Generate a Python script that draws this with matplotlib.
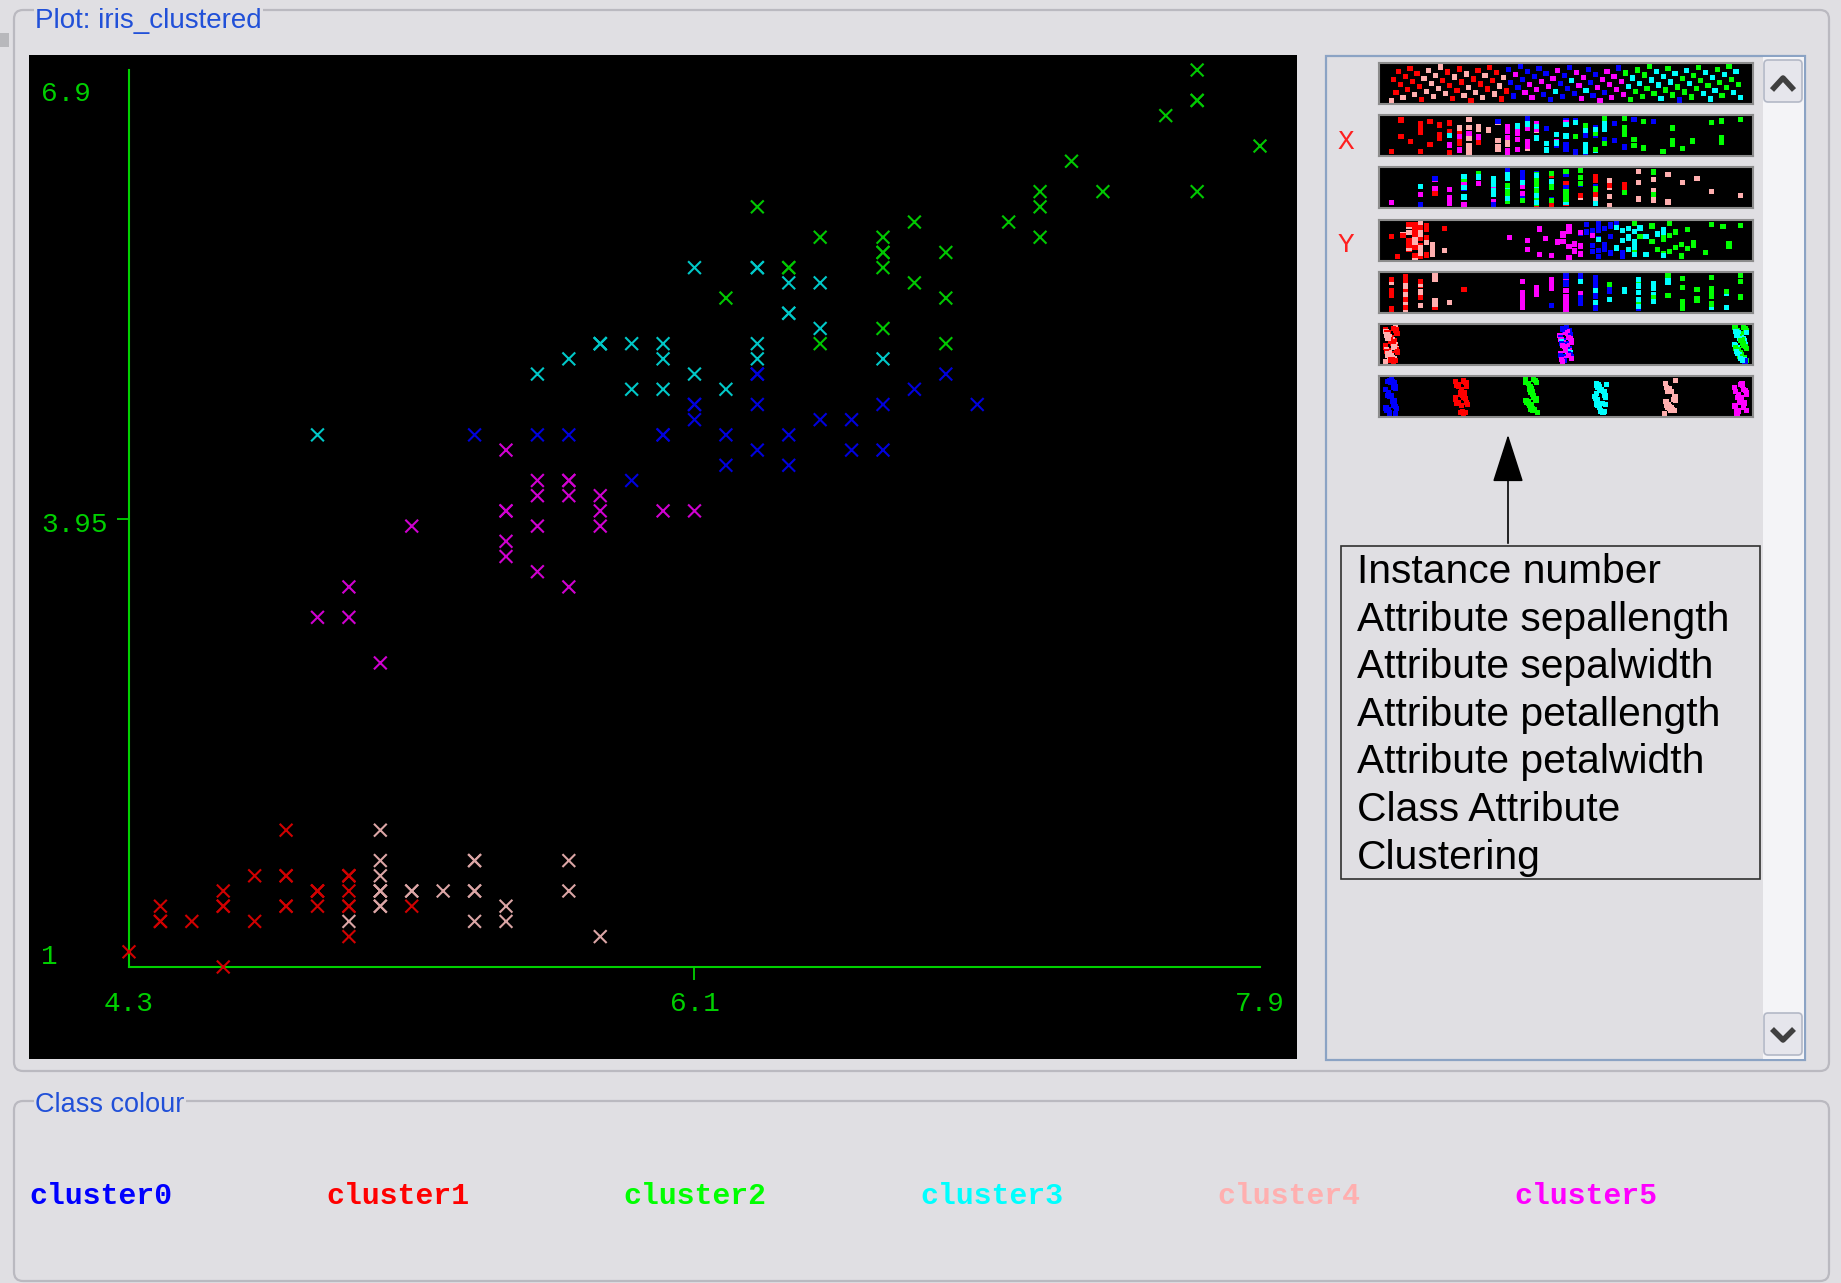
import numpy as np
import matplotlib.pyplot as plt
from matplotlib.patches import FancyBboxPatch, Rectangle

# iris instances (as plotted), one entry per row
sepal_length = [5.1, 4.9, 4.7, 4.6, 5.0, 5.4, 4.6, 5.0, 4.4, 4.9, 5.4, 4.8, 4.8, 4.3, 5.8, 5.7, 5.4, 5.1, 5.7, 5.1,
                5.4, 5.1, 4.6, 5.1, 4.8, 5.0, 5.0, 5.2, 5.2, 4.7, 4.8, 5.4, 5.2, 5.5, 4.9, 5.0, 5.5, 4.9, 4.4, 5.1,
                5.0, 4.5, 4.4, 5.0, 5.1, 4.8, 5.1, 4.6, 5.3, 5.0,
                7.0, 6.4, 6.9, 5.5, 6.5, 5.7, 6.3, 4.9, 6.6, 5.2, 5.0, 5.9, 6.0, 6.1, 5.6, 6.7, 5.6, 5.8, 6.2, 5.6,
                5.9, 6.1, 6.3, 6.1, 6.4, 6.6, 6.8, 6.7, 6.0, 5.7, 5.5, 5.5, 5.8, 6.0, 5.4, 6.0, 6.7, 6.3, 5.6, 5.5,
                5.5, 6.1, 5.8, 5.0, 5.6, 5.7, 5.7, 6.2, 5.1, 5.7,
                6.3, 5.8, 7.1, 6.3, 6.5, 7.6, 4.9, 7.3, 6.7, 7.2, 6.5, 6.4, 6.8, 5.7, 5.8, 6.4, 6.5, 7.7, 7.7, 6.0,
                6.9, 5.6, 7.7, 6.3, 6.7, 7.2, 6.2, 6.1, 6.4, 7.2, 7.4, 7.9, 6.4, 6.3, 6.1, 7.7, 6.3, 6.4, 6.0, 6.9,
                6.7, 6.9, 5.8, 6.8, 6.7, 6.7, 6.3, 6.5, 6.2, 5.9]
sepal_width = [3.5, 3.0, 3.2, 3.1, 3.6, 3.9, 3.4, 3.4, 2.9, 3.1, 3.7, 3.4, 3.0, 3.0, 4.0, 4.4, 3.9, 3.5, 3.8, 3.8,
               3.4, 3.7, 3.6, 3.3, 3.4, 3.0, 3.4, 3.5, 3.4, 3.2, 3.1, 3.4, 4.1, 4.2, 3.1, 3.2, 3.5, 3.1, 3.0, 3.4,
               3.5, 2.3, 3.2, 3.5, 3.8, 3.0, 3.8, 3.2, 3.7, 3.3,
               3.2, 3.2, 3.1, 2.3, 2.8, 2.8, 3.3, 2.4, 2.9, 2.7, 2.0, 3.0, 2.2, 2.9, 2.9, 3.1, 3.0, 2.7, 2.2, 2.5,
               3.2, 2.8, 2.5, 2.8, 2.9, 3.0, 2.8, 3.0, 2.9, 2.6, 2.4, 2.4, 2.7, 2.7, 3.0, 3.4, 3.1, 2.3, 3.0, 2.5,
               2.6, 3.0, 2.6, 2.3, 2.7, 3.0, 2.9, 2.9, 2.5, 2.8,
               3.3, 2.7, 3.0, 2.9, 3.0, 3.0, 2.5, 2.9, 2.5, 3.6, 3.2, 2.7, 3.0, 2.5, 2.8, 3.2, 3.0, 3.8, 2.6, 2.2,
               3.2, 2.8, 2.8, 2.7, 3.3, 3.2, 2.8, 3.0, 2.8, 3.0, 2.8, 3.8, 2.8, 2.8, 2.6, 3.0, 3.4, 3.1, 3.0, 3.1,
               3.1, 3.1, 2.7, 3.2, 3.3, 3.0, 2.5, 3.0, 3.4, 3.0]
petal_length = [1.4, 1.4, 1.3, 1.5, 1.4, 1.7, 1.4, 1.5, 1.4, 1.5, 1.5, 1.6, 1.4, 1.1, 1.2, 1.5, 1.3, 1.4, 1.7, 1.5,
                1.7, 1.5, 1.0, 1.7, 1.9, 1.6, 1.6, 1.5, 1.4, 1.6, 1.6, 1.5, 1.5, 1.4, 1.5, 1.2, 1.3, 1.5, 1.3, 1.5,
                1.3, 1.3, 1.3, 1.6, 1.9, 1.4, 1.6, 1.4, 1.5, 1.4,
                4.7, 4.5, 4.9, 4.0, 4.6, 4.5, 4.7, 3.3, 4.6, 3.9, 3.5, 4.2, 4.0, 4.7, 3.6, 4.4, 4.5, 4.1, 4.5, 3.9,
                4.8, 4.0, 4.9, 4.7, 4.3, 4.4, 4.8, 5.0, 4.5, 3.5, 3.8, 3.7, 3.9, 5.1, 4.5, 4.5, 4.7, 4.4, 4.1, 4.0,
                4.4, 4.6, 4.0, 3.3, 4.2, 4.2, 4.2, 4.3, 3.0, 4.1,
                6.0, 5.1, 5.9, 5.6, 5.8, 6.6, 4.5, 6.3, 5.8, 6.1, 5.1, 5.3, 5.5, 5.0, 5.1, 5.3, 5.5, 6.7, 6.9, 5.0,
                5.7, 4.9, 6.7, 4.9, 5.7, 6.0, 4.8, 4.9, 5.6, 5.8, 6.1, 6.4, 5.6, 5.1, 5.6, 6.1, 5.6, 5.5, 4.8, 5.4,
                5.6, 5.1, 5.1, 5.9, 5.7, 5.2, 5.0, 5.2, 5.4, 5.1]
petal_width = [0.2, 0.2, 0.2, 0.2, 0.2, 0.4, 0.3, 0.2, 0.2, 0.1, 0.2, 0.2, 0.1, 0.1, 0.2, 0.4, 0.4, 0.3, 0.3, 0.3,
               0.2, 0.4, 0.2, 0.5, 0.2, 0.2, 0.4, 0.2, 0.2, 0.2, 0.2, 0.4, 0.1, 0.2, 0.1, 0.2, 0.2, 0.1, 0.2, 0.2,
               0.3, 0.3, 0.2, 0.6, 0.4, 0.3, 0.2, 0.2, 0.2, 0.2,
               1.4, 1.5, 1.5, 1.3, 1.5, 1.3, 1.6, 1.0, 1.3, 1.4, 1.0, 1.5, 1.0, 1.4, 1.3, 1.4, 1.5, 1.0, 1.5, 1.1,
               1.8, 1.3, 1.5, 1.2, 1.3, 1.4, 1.4, 1.7, 1.5, 1.0, 1.1, 1.0, 1.2, 1.6, 1.5, 1.6, 1.5, 1.3, 1.3, 1.3,
               1.2, 1.4, 1.2, 1.0, 1.3, 1.2, 1.3, 1.3, 1.1, 1.3,
               2.5, 1.9, 2.1, 1.8, 2.2, 2.1, 1.7, 1.8, 1.8, 2.5, 2.0, 1.9, 2.1, 2.0, 2.4, 2.3, 1.8, 2.2, 2.3, 1.5,
               2.3, 2.0, 2.0, 1.8, 2.1, 1.8, 1.8, 1.8, 2.1, 1.6, 1.9, 2.0, 2.2, 1.5, 1.4, 2.3, 2.4, 1.8, 1.8, 2.1,
               2.4, 2.3, 1.9, 2.3, 2.5, 2.3, 1.9, 2.0, 2.3, 1.8]
iris_class = [0] * 50 + [1] * 50 + [2] * 50
cluster = [4, 1, 1, 1, 1, 4, 1, 1, 1, 1, 4, 1, 1, 1, 4, 4, 4, 4, 4, 4,
           4, 4, 1, 4, 1, 1, 1, 4, 1, 1, 1, 4, 4, 4, 1, 1, 4, 1, 1, 4,
           4, 1, 1, 1, 4, 1, 4, 1, 4, 1,
           0, 0, 0, 5, 0, 0, 0, 5, 0, 5, 5, 0, 5, 0, 5, 0, 0, 5, 0, 5,
           3, 5, 0, 0, 0, 0, 0, 3, 0, 5, 5, 5, 5, 3, 0, 0, 0, 0, 5, 5,
           5, 0, 5, 5, 5, 5, 5, 0, 5, 5,
           2, 3, 2, 3, 2, 2, 3, 2, 2, 2, 2, 3, 2, 3, 3, 3, 3, 2, 2, 3,
           2, 3, 2, 0, 2, 2, 3, 3, 2, 2, 2, 2, 2, 3, 3, 2, 3, 3, 3, 2,
           2, 2, 3, 2, 2, 2, 3, 3, 2, 3]

cluster_names = ['cluster0', 'cluster1', 'cluster2', 'cluster3', 'cluster4', 'cluster5']
cluster_colors = ['#0000ff', '#ff0000', '#00ff00', '#00ffff', '#ffafaf', '#ff00ff']
cross_colors = ['#0000dd', '#d00000', '#00c800', '#00c8c8', '#dba5a5', '#d000d0']
strip_names = ['Instance number', 'Attribute sepallength', 'Attribute sepalwidth',
               'Attribute petallength', 'Attribute petalwidth', 'Class Attribute', 'Clustering']
x_ticks = [4.3, 6.1, 7.9]
y_ticks = [1, 3.95, 6.9]
y_tick_text = ['1', '3.95', '6.9']

BG = '#e0dfe3'
GREEN = '#00d000'
W, H = 1841, 1283

fig = plt.figure(figsize=(W / 100, H / 100), dpi=100)
fig.patch.set_facecolor(BG)


def box(x0, y0, x1, y1):
    return [x0 / W, 1 - y1 / H, (x1 - x0) / W, (y1 - y0) / H]


# window chrome, in pixel coordinates
bg = fig.add_axes([0, 0, 1, 1])
bg.set_xlim(0, W)
bg.set_ylim(H, 0)
bg.axis('off')
bg.add_patch(Rectangle((0, 33), 9, 14, fc='#b8b8bc', ec='none'))
for (x0, y0, x1, y1) in [(14, 10, 1829, 1071), (14, 1101, 1829, 1281)]:
    bg.add_patch(FancyBboxPatch((x0, y0), x1 - x0, y1 - y0,
                                boxstyle='round,pad=0,rounding_size=9',
                                fc='none', ec='#bab9c0', lw=1.6))
bg.text(35, 21, 'Plot: iris_clustered', color='#2150d8', fontsize=20,
        family='Liberation Sans', va='center',
        bbox=dict(fc=BG, ec='none', pad=1))
bg.text(35, 1105, 'Class colour', color='#2150d8', fontsize=19.5,
        family='Liberation Sans', va='center',
        bbox=dict(fc=BG, ec='none', pad=1))

# right-hand panel with scroll bar
bg.add_patch(Rectangle((1326, 56), 479, 1004, fc=BG, ec='#8ba3c4', lw=1.6))
bg.add_patch(Rectangle((1763, 57), 41, 1002, fc='#f4f4f7', ec='none'))
for y0, pts in [(60, [(1772, 90), (1783, 78), (1794, 90)]),
                (1013, [(1772, 1029), (1783, 1040), (1794, 1029)])]:
    bg.add_patch(FancyBboxPatch((1764, y0), 38, 42, boxstyle='round,pad=0,rounding_size=4',
                                fc='#e6e6ec', ec='#b3b8c6', lw=1.2))
    bg.plot([p[0] for p in pts], [p[1] for p in pts], color='#404040', lw=4,
            solid_capstyle='butt')
bg.text(1346, 142, 'X', color='#ff2020', fontsize=20, family='Liberation Mono',
        ha='center', va='center')
bg.text(1346, 245, 'Y', color='#ff2020', fontsize=20, family='Liberation Mono',
        ha='center', va='center')
bg.annotate('', xy=(1508, 432), xytext=(1508, 546),
            arrowprops=dict(arrowstyle='-|>,head_length=1.4,head_width=0.45',
                            color='black', lw=1.2, mutation_scale=22))
bg.add_patch(Rectangle((1341, 546), 419, 333, fc='none', ec='#303030', lw=1.2))
for k, name in enumerate(strip_names):
    bg.text(1357, 572 + 47.6 * k, name, fontsize=29.3, family='Liberation Sans',
            color='black', va='center')

# legend
for k, name in enumerate(cluster_names):
    bg.text(29 + 297 * k, 1196, name, color=cluster_colors[k], fontsize=21.5,
            family='Liberation Mono', fontweight='bold', va='center')

# main scatter plot
ax = fig.add_axes(box(29, 55, 1297, 1059))
ax.set_facecolor('black')
x_lo, x_hi, px_xlo, px_xhi = 4.3, 7.9, 129, 1260
y_lo, y_hi, px_ylo, px_yhi = 1.0, 6.9, 967, 70
sx = (x_hi - x_lo) / (px_xhi - px_xlo)
sy = (y_hi - y_lo) / (px_ylo - px_yhi)
ax.set_xlim(x_lo - (px_xlo - 29) * sx, x_hi + (1297 - px_xhi) * sx)
ax.set_ylim(y_lo - (1059 - px_ylo) * sy, y_hi + (px_yhi - 55) * sy)

ax.scatter(sepal_length, petal_length, c=[cross_colors[c] for c in cluster],
           marker='x', s=85, linewidths=1.5, zorder=3)

for side in ['top', 'right']:
    ax.spines[side].set_visible(False)
ax.spines['left'].set_position(('data', x_lo))
ax.spines['bottom'].set_position(('data', y_lo))
ax.spines['left'].set_bounds(y_lo, y_hi)
ax.spines['bottom'].set_bounds(x_lo, x_hi)
for side in ['left', 'bottom']:
    ax.spines[side].set_color(GREEN)
    ax.spines[side].set_linewidth(1.5)
ax.set_xticks([x_ticks[1]])
ax.set_yticks([y_ticks[1]])
ax.tick_params(colors=GREEN, length=9, width=1.3, labelleft=False, labelbottom=False)

for v in x_ticks:
    ax.annotate(str(v), xy=(v, y_lo), xytext=(0, -37), textcoords='offset pixels',
                ha='center', va='center', color=GREEN, fontsize=20,
                family='Liberation Mono')
for v, t, off in zip(y_ticks, y_tick_text, [10, -6, -24]):
    ax.annotate(t, xy=(0, v), xycoords=ax.get_yaxis_transform(), xytext=(12, off),
                textcoords='offset pixels', ha='left', va='center', color=GREEN,
                fontsize=20, family='Liberation Mono')

# attribute strips on the right
n = len(sepal_length)
idx = np.arange(n)
jit_y = 0.08 + 0.84 * ((idx * 0.6180339887) % 1.0)
jit_x = ((idx * 0.7548776662) % 1.0) - 0.5
strip_cols = [cluster_colors[c] for c in cluster]
strip_data = [list(range(1, n + 1)), sepal_length, sepal_width, petal_length, petal_width,
              iris_class, cluster]
nominal = [False, False, False, False, False, True, True]
for k, (vals, nom) in enumerate(zip(strip_data, nominal)):
    top = 63 + 52.2 * k
    sax = fig.add_axes(box(1379, top, 1753, top + 41))
    sax.set_facecolor('black')
    vals = np.asarray(vals, dtype=float)
    lo, hi = vals.min(), vals.max()
    pad = (hi - lo) * 0.035
    sax.set_xlim(lo - pad, hi + pad)
    sax.set_ylim(0, 1)
    xs = vals + jit_x * (hi - lo) * 0.035 if nom else vals
    sax.scatter(xs, jit_y, c=strip_cols, marker='s', s=14, linewidths=0)
    sax.set_xticks([])
    sax.set_yticks([])
    for sp in sax.spines.values():
        sp.set_color('#8c8c8c')
        sp.set_linewidth(1.5)

fig.savefig('out.png', dpi=100, facecolor=BG)
